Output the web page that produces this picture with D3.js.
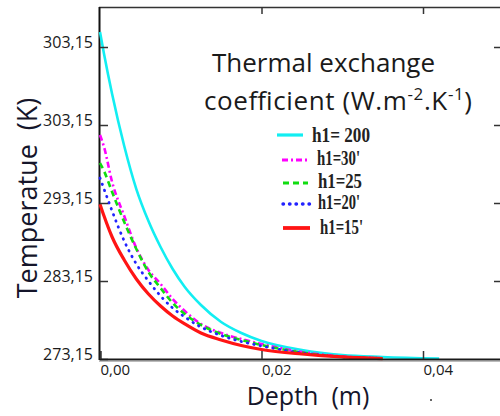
<!DOCTYPE html>
<html>
<head>
<meta charset="utf-8">
<script src="https://cdn.jsdelivr.net/npm/d3@7"></script>
<style>
  html, body { margin: 0; padding: 0; background: #fff; overflow: hidden; }
  svg { display: block; }
</style>
</head>
<body>
<div id="chart"></div>
<script>
// values (depth in m, temperature in K)
const depth = [0, 0.0005, 0.0015, 0.003, 0.0045, 0.006, 0.0075, 0.009, 0.0105, 0.0125, 0.015, 0.0175, 0.02, 0.025, 0.03, 0.035, 0.042];
const tH200 = [315.07, 312.25, 307.12, 300.46, 294.94, 290.84, 287.51, 284.69, 282.38, 280.07, 277.89, 276.48, 275.46, 274.30, 273.66, 273.41, 273.21];
const tH30 = [301.87, 300.33, 295.84, 291.48, 287.38, 284.56, 282.77, 280.84, 279.30, 277.64, 276.48, 275.71, 275.07, 274.05, 273.47, 273.25, null];
const tH25 = [298.28, 297.25, 294.56, 290.71, 287.25, 284.30, 282.25, 280.33, 278.92, 277.51, 276.36, 275.59, 274.94, 273.98, 273.41, 273.24, null];
const tH20 = [296.36, 294.94, 292.12, 288.28, 285.33, 283.15, 281.23, 279.69, 278.53, 277.25, 276.16, 275.39, 274.82, 273.92, 273.41, 273.24, null];
const tH15 = [293.00, 291.48, 288.79, 285.84, 283.41, 281.48, 279.94, 278.66, 277.64, 276.48, 275.59, 274.88, 274.37, 273.79, 273.41, 273.21, null];

const seriesNames = ["h1= 200", "h1=30'", "h1=25", "h1=20'", "h1=15'"];
const yTicks = [273.15, 283.15, 293.15, 303.15, 313.15];
const yTickLabels = ["273,15", "283,15", "293,15", "303,15", "303,15"];
const xTicks = [0, 0.02, 0.04];

let width = 500,
    height = 416;

const series = [
  {name: seriesNames[0], values: tH200, color: "#12eef2", dash: null, w: 2.6, cap: "butt"},
  {name: seriesNames[1], values: tH30, color: "#ff00ff", dash: "6,3,2,3", w: 2.6, cap: "butt"},
  {name: seriesNames[2], values: tH25, color: "#10dd10", dash: "6,4", w: 2.6, cap: "butt"},
  {name: seriesNames[3], values: tH20, color: "#2222ff", dash: "0.5,6", w: 2.8, cap: "round"},
  {name: seriesNames[4], values: tH15, color: "#ff1414", dash: null, w: 3.2, cap: "butt"}
];

let svg = d3.select('#chart')
  .append('svg')
  .attr('width', width)
  .attr('height', height);

let x = d3.scaleLinear().domain([0, 0.05]).range([100, 503.75]);
let y = d3.scaleLinear().domain([273.15, 313.15]).range([359, 47]);

// frame
svg.append('line').attr('x1', 99).attr('x2', 502).attr('y1', 7.5).attr('y2', 7.5)
  .attr('stroke', '#333').attr('stroke-width', 1.6);
svg.append('line').attr('x1', 99.5).attr('x2', 99.5).attr('y1', 7).attr('y2', 360)
  .attr('stroke', '#111').attr('stroke-width', 2);
svg.append('line').attr('x1', 502).attr('x2', 502).attr('y1', 7).attr('y2', 360)
  .attr('stroke', '#111').attr('stroke-width', 2);

// curves
let line = d3.line()
  .defined(d => d[1] !== null)
  .x(d => x(d[0]))
  .y(d => y(d[1]))
  .curve(d3.curveMonotoneX);

series.forEach(function (s) {
  svg.append('path')
    .datum(depth.map((d, i) => [d, s.values[i]]))
    .attr('fill', 'none')
    .attr('stroke', s.color)
    .attr('stroke-width', s.w)
    .attr('stroke-linecap', s.cap)
    .attr('stroke-dasharray', s.dash)
    .attr('d', line);
});

// axes
let fmt = v => d3.format(".2f")(v).replace('.', ',');

let yAxis = svg.append('g')
  .attr('transform', 'translate(100,0)')
  .call(d3.axisLeft(y).tickValues(yTicks).tickSize(-8).tickPadding(7)
    .tickFormat((d, i) => yTickLabels[i]));
yAxis.select('.domain').remove();
yAxis.selectAll('.tick line').attr('stroke', '#333').attr('stroke-width', 1.5);
yAxis.selectAll('.tick text')
  .attr('dy', '0.05em')
  .style('font-family', 'Open Sans')
  .style('font-size', '16px')
  .attr('fill', '#1a1a1a');

let yAxisR = svg.append('g')
  .attr('transform', 'translate(501,0)')
  .call(d3.axisRight(y).tickValues(yTicks.slice(1)).tickSize(-7).tickFormat(''));
yAxisR.select('.domain').remove();
yAxisR.selectAll('.tick line').attr('stroke', '#333').attr('stroke-width', 1.5);

let xAxis = svg.append('g')
  .attr('transform', 'translate(0,359)')
  .call(d3.axisBottom(x).tickValues(xTicks).tickSize(-8).tickPadding(5).tickFormat(fmt));
xAxis.select('.domain').attr('stroke', '#1a1a1a').attr('stroke-width', 2.2);
xAxis.selectAll('.tick line').attr('stroke', '#333').attr('stroke-width', 1.5);
xAxis.selectAll('.tick text')
  .attr('text-anchor', 'start')
  .style('font-family', 'Open Sans')
  .style('font-size', '15px')
  .attr('fill', '#1a1a1a');

let xAxisT = svg.append('g')
  .attr('transform', 'translate(0,7)')
  .call(d3.axisTop(x).tickValues(xTicks.slice(1)).tickSize(-7).tickFormat(''));
xAxisT.select('.domain').remove();
xAxisT.selectAll('.tick line').attr('stroke', '#333').attr('stroke-width', 1.5);

// grey shadow under the bottom axis
svg.append('line').attr('x1', 99).attr('x2', 502).attr('y1', 361.5).attr('y2', 361.5)
  .attr('stroke', '#bbb').attr('stroke-width', 1);

// axis titles
svg.append('text')
  .attr('transform', 'translate(37,198) rotate(-90)')
  .attr('text-anchor', 'middle')
  .style('font-family', 'Open Sans')
  .style('font-size', '27px')
  .attr('fill', '#15152a')
  .attr('xml:space', 'preserve')
  .text('Temperatue  (K)');

svg.append('text')
  .attr('x', 308).attr('y', 405)
  .attr('text-anchor', 'middle')
  .style('font-family', 'Open Sans')
  .style('font-size', '25px')
  .attr('fill', '#15152a')
  .attr('xml:space', 'preserve')
  .text('Depth  (m)');

svg.append('circle').attr('cx', 431).attr('cy', 400).attr('r', 1).attr('fill', '#333');

// legend title
let title = svg.append('g')
  .style('font-family', 'Open Sans')
  .style('font-size', '26px')
  .attr('fill', '#1a1a1a');
title.append('text').attr('x', 212).attr('y', 72).text('Thermal exchange');
let t2 = title.append('text').attr('x', 204).attr('y', 110)
  .attr('textLength', 268).attr('lengthAdjust', 'spacing');
t2.append('tspan').text('coefficient (W.m');
t2.append('tspan').attr('dy', -10).style('font-size', '17px').text('-2');
t2.append('tspan').attr('dy', 10).text('.K');
t2.append('tspan').attr('dy', -10).style('font-size', '17px').text('-1');
t2.append('tspan').attr('dy', 10).text(')');

// legend entries
const legendRows = [
  {lx1: 277, lx2: 303, ly: 135, tx: 312, ty: 142, tw: 58},
  {lx1: 282, lx2: 310, ly: 160, tx: 317, ty: 165, tw: 43},
  {lx1: 283, lx2: 308, ly: 183, tx: 318, ty: 188, tw: 44},
  {lx1: 283, lx2: 312, ly: 204, tx: 318, ty: 209, tw: 42},
  {lx1: 283, lx2: 310, ly: 228, tx: 320, ty: 234, tw: 43}
];

series.forEach(function (s, i) {
  let r = legendRows[i];
  svg.append('line')
    .attr('x1', r.lx1).attr('x2', r.lx2).attr('y1', r.ly).attr('y2', r.ly)
    .attr('stroke', s.color)
    .attr('stroke-width', s.w + 0.6)
    .attr('stroke-linecap', s.cap)
    .attr('stroke-dasharray', s.dash);
  svg.append('text')
    .attr('x', r.tx).attr('y', r.ty)
    .attr('textLength', r.tw)
    .attr('lengthAdjust', 'spacingAndGlyphs')
    .style('font-family', 'Liberation Serif')
    .style('font-size', '20px')
    .style('font-weight', 'bold')
    .attr('fill', '#222')
    .text(s.name);
});
</script>
</body>
</html>
